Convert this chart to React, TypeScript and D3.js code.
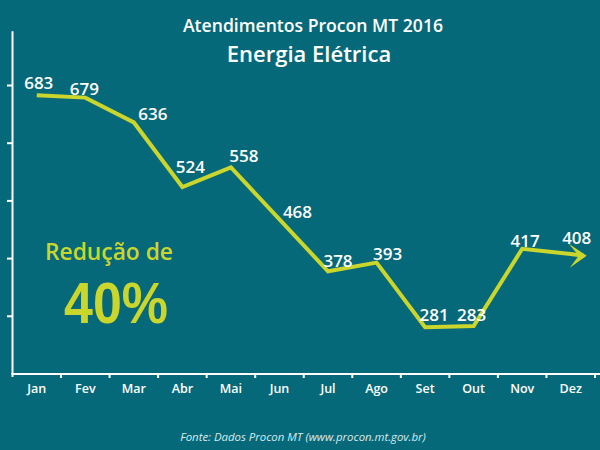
import * as d3 from "d3";

const months = ["Jan", "Fev", "Mar", "Abr", "Mai", "Jun", "Jul", "Ago", "Set", "Out", "Nov", "Dez"];
const atendimentos = [683, 679, 636, 524, 558, 468, 378, 393, 281, 283, 417, 408];
const yTicks = [200, 300, 400, 500, 600, 700];

// label offsets relative to each point (center x, baseline y)
const labelDx = [2, -1, 19, 8, 13, 18, 10, 11, 9, -2, 3, 6];
const labelDy = [-6, -3, -2, -14, -5, -1, -4, -3, -6, -5, -2, -10];

const W = 600;
const H = 450;
const bg = "#06697a";
const lime = "#cad62b";
const font = "'Open Sans', 'Noto Sans', sans-serif";

function App() {
    const x = d3.scaleBand().domain(months).range([12.5, 595]);
    const y = d3.scaleLinear().domain([200, 800]).range([374, 27.8]);
    const cx = (m: string) => (x(m) ?? 0) + x.bandwidth() / 2;

    const pts: [number, number][] = months.map((m, i) => [cx(m), y(atendimentos[i])]);
    // extend the last segment into an arrow
    const [lx, ly] = pts[pts.length - 1];
    const [px, py] = pts[pts.length - 2];
    const slope = (ly - py) / (lx - px);
    const tipX = lx + 16;
    const tipY = ly + slope * 16;
    const line = d3.line()([...pts, [tipX - 3, tipY]]);

    return (
        <svg width={W} height={H} style={{ position: "absolute", left: 0, top: 0, background: bg }}>
            <rect width={W} height={H} fill={bg} />

            <text x={313} y={32} textAnchor="middle" fill="white" fontFamily={font} fontWeight={600} fontSize={17.6}>
                Atendimentos Procon MT 2016
            </text>
            <text x={309} y={62} textAnchor="middle" fill="white" fontFamily={font} fontWeight={600} fontSize={22}>
                Energia Elétrica
            </text>

            {/* axes */}
            <g stroke="white" strokeWidth={2}>
                <line x1={12.5} x2={12.5} y1={y(794)} y2={377} />
                <line x1={11.5} x2={W} y1={374} y2={374} />
                {yTicks.slice(1).map(t => (
                    <line key={t} x1={7} x2={12.5} y1={y(t)} y2={y(t)} />
                ))}
                {months.map(m => (
                    <line key={m} x1={(x(m) ?? 0) + x.bandwidth()} x2={(x(m) ?? 0) + x.bandwidth()} y1={374} y2={378} />
                ))}
            </g>
            {months.map(m => (
                <text key={m} x={cx(m)} y={393} textAnchor="middle" fill="white" fontFamily={font} fontWeight={600} fontSize={12.5}>
                    {m}
                </text>
            ))}

            <path d={line ?? ""} fill="none" stroke={lime} strokeWidth={4} strokeLinejoin="miter" />
            <path
                d={`M${tipX - 18},${tipY - 12} L${tipX},${tipY} L${tipX - 17},${tipY + 12} L${tipX - 8},${tipY} Z`}
                fill={lime}
            />

            {atendimentos.map((v, i) => (
                <text
                    key={i}
                    x={pts[i][0] + labelDx[i]}
                    y={pts[i][1] + labelDy[i]}
                    textAnchor="middle"
                    fill="white"
                    fontFamily={font}
                    fontWeight={600}
                    fontSize={17}
                >
                    {v}
                </text>
            ))}

            <text x={109} y={260} textAnchor="middle" fill={lime} fontFamily={font} fontWeight={600}
                fontSize={23.5} textLength={128} lengthAdjust="spacingAndGlyphs">
                Redução de
            </text>
            <text x={116} y={323} textAnchor="middle" fill={lime} fontFamily="'Liberation Sans', sans-serif" fontWeight={700}
                fontSize={58} textLength={104} lengthAdjust="spacingAndGlyphs">
                40%
            </text>

            <text x={303} y={441} textAnchor="middle" fill="#d9e9ec" fontFamily={font} fontStyle="italic" fontSize={11.4}>
                Fonte: Dados Procon MT (www.procon.mt.gov.br)
            </text>
        </svg>
    );
}

export default App;
